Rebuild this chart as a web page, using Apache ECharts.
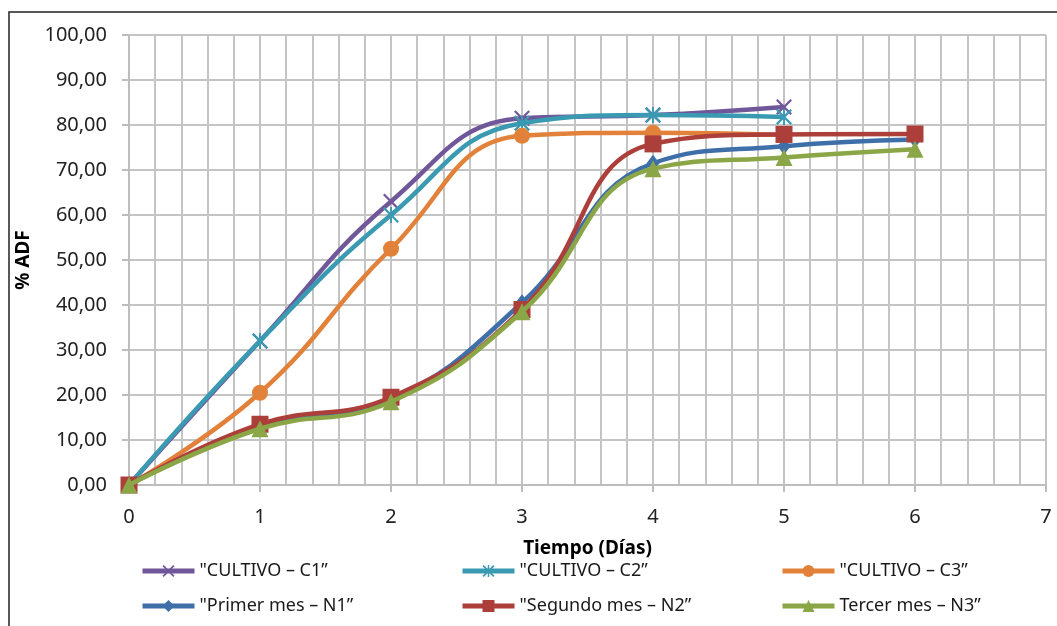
<!DOCTYPE html>
<html>
<head>
<meta charset="utf-8">
<script src="https://cdn.jsdelivr.net/npm/echarts@6/dist/echarts.min.js"></script>
<style>
  html, body { margin: 0; padding: 0; background: #fff; }
  #main { width: 1057px; height: 626px; }
</style>
</head>
<body>
<div id="main"></div>
<script>
// días
var dias = [0, 1, 2, 3, 4, 5, 6];
var xTicks = [0, 1, 2, 3, 4, 5, 6, 7];
var yTicks = [0, 10, 20, 30, 40, 50, 60, 70, 80, 90, 100];

// % ADF por serie
var cultivoC1 = [0, 32, 63, 81.5, 82.2, 84];
var cultivoC2 = [0, 32, 60, 80.4, 82.2, 81.8];
var cultivoC3 = [0, 20.5, 52.5, 77.6, 78.3, 77.8];
var primerN1 = [0, 13, 19, 40.5, 71.5, 75.3, 76.8];
var segundoN2 = [0, 13.5, 19.5, 39, 75.8, 77.9, 78];
var tercerN3 = [0, 12.5, 18.5, 38.5, 70.3, 72.8, 74.6];

var nombres = ['"CULTIVO \u2013 C1\u201d', '"CULTIVO \u2013 C2\u201d', '"CULTIVO \u2013 C3\u201d',
  '"Primer mes \u2013 N1\u201d', '"Segundo mes \u2013 N2\u201d', 'Tercer mes \u2013 N3\u201d'];
var colores = ['#70579A', '#3A9AB2', '#E2823A', '#3E6FA8', '#AD3F3B', '#8BA646'];

var xMark = 'path://M0,1 L1,0 L5,4 L9,0 L10,1 L6,5 L10,9 L9,10 L5,6 L1,10 L0,9 L4,5 Z';
var starMark = 'path://M0,1 L1,0 L5,4 L9,0 L10,1 L6,5 L10,9 L9,10 L5,6 L1,10 L0,9 L4,5 Z M4.4,0 L5.6,0 L5.6,10 L4.4,10 Z';
var simbolos = [xMark, starMark, 'circle', 'diamond', 'rect', 'triangle'];
var tamanos = [[16, 16], [16, 16], 16, [13, 17], 17, 17];
var datos = [cultivoC1, cultivoC2, cultivoC3, primerN1, segundoN2, tercerN3];

var font = '"Noto Sans", "Open Sans", sans-serif';

var series = datos.map(function (d, i) {
  return {
    name: nombres[i],
    type: 'line',
    smooth: 0.45,
    data: d.map(function (v, j) { return [dias[j], v]; }),
    symbol: simbolos[i],
    symbolSize: tamanos[i],
    z: 2 + i,
    lineStyle: { color: colores[i], width: 4.5 },
    itemStyle: { color: colores[i] }
  };
});

// leyenda en dos filas de tres columnas
var legCols = [135, 455, 775];
var legRows = [557, 592];
var legends = nombres.map(function (n, i) {
  return {
    data: [n],
    left: legCols[i % 3],
    top: legRows[Math.floor(i / 3)],
    itemWidth: 52,
    itemHeight: 15,
    itemGap: 2,
    lineStyle: { width: 5 },
    textStyle: { fontFamily: font, fontSize: 18, color: '#1a1a1a' }
  };
});

var chart = echarts.init(document.getElementById('main'));
chart.setOption({
  animation: false,
  backgroundColor: '#fff',
  graphic: [{
    type: 'rect',
    shape: { x: 9, y: 12, width: 1100, height: 700 },
    style: { fill: 'none', stroke: '#222', lineWidth: 1.5 },
    silent: true
  }],
  legend: legends,
  grid: { left: 129, right: 11, top: 35, bottom: 141, containLabel: false },
  xAxis: {
    type: 'value',
    min: xTicks[0],
    max: xTicks[xTicks.length - 1],
    interval: 1,
    name: 'Tiempo (Días)',
    nameLocation: 'middle',
    nameGap: 54,
    nameTextStyle: { fontFamily: font, fontSize: 19, fontWeight: 'bold', color: '#000' },
    axisLine: { show: true, lineStyle: { color: '#BDBDBD', width: 2 } },
    axisTick: { show: true, length: 7, lineStyle: { color: '#BDBDBD', width: 2 } },
    axisLabel: { fontFamily: font, fontSize: 20, color: '#222', margin: 22 },
    splitLine: { show: true, lineStyle: { color: '#C4C4C4', width: 2 } },
    minorTick: { show: false, splitNumber: 5 },
    minorSplitLine: { show: true, lineStyle: { color: '#C4C4C4', width: 2 } }
  },
  yAxis: {
    type: 'value',
    min: yTicks[0],
    max: yTicks[yTicks.length - 1],
    interval: 10,
    name: '% ADF',
    nameLocation: 'middle',
    nameGap: 90,
    nameRotate: 90,
    nameTextStyle: { fontFamily: font, fontSize: 19, fontWeight: 'bold', color: '#000' },
    axisLine: { show: true, lineStyle: { color: '#BDBDBD', width: 2 } },
    axisTick: { show: true, length: 7, lineStyle: { color: '#BDBDBD', width: 2 } },
    axisLabel: {
      fontFamily: font, fontSize: 20, color: '#222', margin: 22,
      formatter: function (v) { return v.toFixed(2).replace('.', ','); }
    },
    splitLine: { show: true, lineStyle: { color: '#C4C4C4', width: 2 } }
  },
  series: series
});
</script>
</body>
</html>
